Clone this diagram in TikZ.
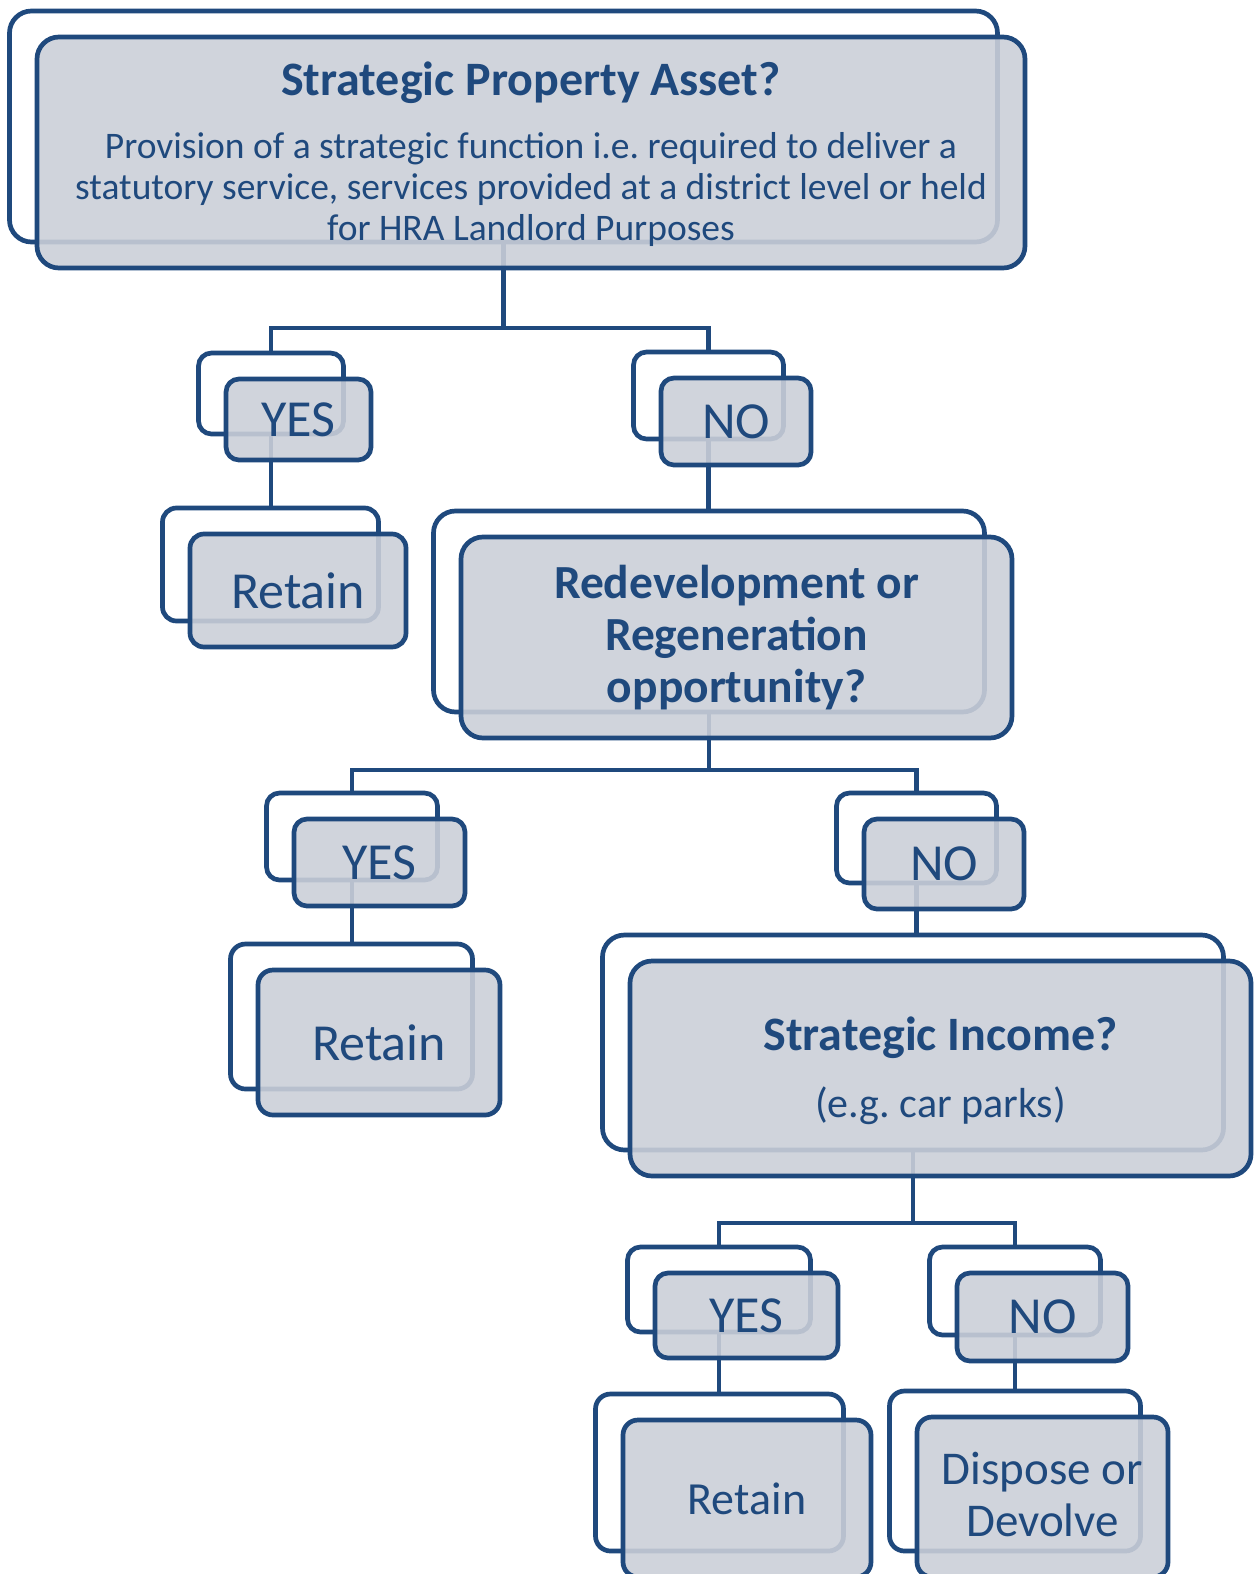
\documentclass[tikz,border=0pt]{standalone}
\usepackage{fontspec}
\setmainfont{Carlito}
\frenchspacing
\definecolor{dblue}{HTML}{1F497D}
\definecolor{ffill}{RGB}{203,207,216}
\newcommand\backbox[6]{\node[back, rounded corners=#6, minimum width=#4pt, minimum height=#5pt] (#1b) at (#2-27.5,#3-26) {};}
\newcommand\frontbox[7]{\node[front, rounded corners=#6, minimum width=#4pt, minimum height=#5pt] (#1) at (#2,#3) {#7};}
\begin{document}
\frenchspacing
\begin{tikzpicture}[x=1pt,y=-1pt,
  back/.style={draw=dblue, line width=4.7pt, fill=white, rectangle, inner sep=0pt},
  front/.style={draw=dblue, line width=4.7pt, fill=ffill, fill opacity=0.89, text opacity=1, rectangle, inner sep=0pt, text=dblue, align=center, font=\fontsize{52}{57}\selectfont},
  conn/.style={draw=dblue, line width=4.7pt, line join=miter},
  txt/.style={text=dblue, align=center, inner sep=0pt},
]
\useasboundingbox (0,0) rectangle (1256,1574);
\clip (0,0) rectangle (1256,1574);
\fill[white] (0,0) rectangle (1256,1574);
% back boxes
\backbox{top}{531}{152.5}{988}{231}{22}
\backbox{yesa}{298.5}{419.5}{145}{81}{13}
\backbox{reta}{298}{590.5}{216}{113}{14}
\backbox{noa}{736}{421.5}{150}{87}{13}
\backbox{redev}{736.5}{637.5}{551}{201}{22}
\backbox{yesb}{379.5}{862.5}{171}{87}{13}
\backbox{retb}{379}{1042.5}{242}{145}{15}
\backbox{nob}{944}{864}{160}{90}{13}
\backbox{inc}{940.5}{1068.5}{621}{215}{22}
\backbox{yesc}{746.5}{1315.5}{183}{85}{13}
\backbox{noc}{1042.5}{1317}{171}{88}{13}
\backbox{retc}{747}{1498.5}{248}{157}{15}
\backbox{disp}{1042.5}{1497}{251}{160}{15}
% connectors
\coordinate (busa) at (0,328);
\coordinate (busb) at (0,770);
\coordinate (busc) at (0,1223);
\draw[conn] (topb.south) -- (topb.south |- busa) -| (yesab.north);
\draw[conn] (topb.south |- busa) -| (noab.north);
\draw[conn] (yesab.south) -- (yesab.south |- retab.north);
\draw[conn] (noab.south) -- (noab.south |- redevb.north);
\draw[conn] (redevb.south) -- (redevb.south |- busb) -| (yesbb.north);
\draw[conn] (redevb.south |- busb) -| (nobb.north);
\draw[conn] (yesbb.south) -- (yesbb.south |- retbb.north);
\draw[conn] (nobb.south) -- (nobb.south |- incb.north);
\draw[conn] (incb.south) -- (incb.south |- busc) -| (yescb.north);
\draw[conn] (incb.south |- busc) -| (nocb.north);
\draw[conn] (yescb.south) -- (yescb.south |- retcb.north);
\draw[conn] (nocb.south) -- (nocb.south |- dispb.north);
% front boxes
\frontbox{top}{531}{152.5}{988}{231}{22}{}
\frontbox{yesa}{298.5}{419.5}{145}{81}{13}{YES}
\frontbox{reta}{298}{590.5}{216}{113}{14}{Retain}
\frontbox{noa}{736}{421.5}{150}{87}{13}{NO}
\frontbox{redev}{736.5}{637.5}{551}{201}{22}{}
\frontbox{yesb}{379.5}{862.5}{171}{87}{13}{YES}
\frontbox{retb}{379}{1042.5}{242}{145}{15}{Retain}
\frontbox{nob}{944}{864}{160}{90}{13}{NO}
\frontbox{inc}{940.5}{1068.5}{621}{215}{22}{}
\frontbox{yesc}{746.5}{1315.5}{183}{85}{13}{YES}
\frontbox{noc}{1042.5}{1317}{171}{88}{13}{NO}
\frontbox{retc}{747}{1498.5}{248}{157}{15}{\fontsize{46}{50}\selectfont Retain}
\frontbox{disp}{1042.5}{1497}{251}{160}{15}{}
% texts
\node[txt, anchor=base, font=\bfseries\fontsize{48}{52}\selectfont] (ttitle) at (531,95) {Strategic Property Asset?};
\node[txt, anchor=base, font=\fontsize{37.5}{41}\selectfont] (tbody) at (531,240) {Provision of a strategic function i.e. required to deliver a\\statutory service, services provided at a district level or held\\for HRA Landlord Purposes};
\node[txt, anchor=base, font=\bfseries\fontsize{47.5}{52}\selectfont] (tredev) at (736.5,702) {Redevelopment or\\Regeneration\\opportunity?};
\node[txt, anchor=base, font=\bfseries\fontsize{48}{52}\selectfont] (tinc) at (940.5,1050) {Strategic Income?};
\node[txt, anchor=base, font=\fontsize{42}{46}\selectfont] (tincsub) at (940.5,1117) {(e.g. car parks)};
\node[txt, anchor=base, font=\fontsize{47}{52}\selectfont] (tdisp) at (1042.5,1536) {Dispose or\\Devolve};
\end{tikzpicture}
\end{document}
